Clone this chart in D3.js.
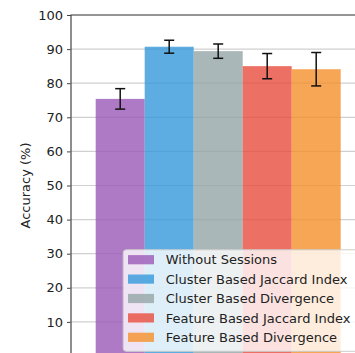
<!DOCTYPE html>
<html>
<head>
<meta charset="utf-8">
<script src="https://cdn.jsdelivr.net/npm/d3@7/dist/d3.min.js"></script>
<style>
  body { margin: 0; background: #fff; }
  svg text { font-family: 'DejaVu Sans', sans-serif; }
</style>
</head>
<body>
<div id="chart"></div>
<script>
var methods = [
  'Without Sessions',
  'Cluster Based Jaccard Index',
  'Cluster Based Divergence',
  'Feature Based Jaccard Index',
  'Feature Based Divergence'
];
var accuracy = [75.4, 90.7, 89.4, 85.0, 84.1];
var errors = [3.0, 1.9, 2.1, 3.7, 4.9];
var colors = ['#9b59b6', '#3498db', '#95a5a6', '#e74c3c', '#f5902b'];
var yTicks = [10, 20, 30, 40, 50, 60, 70, 80, 90, 100];

!(function (d3) {

  var width = 355;
  var height = 353;

  // the plot area runs past the bottom and right edges of the picture
  var plot = { left: 70.5, top: 15, right: 366, bottom: 356 };

  var x = d3.scaleBand()
      .domain(methods)
      .range([95.7, 340.7])
      .padding(0);

  var y = d3.scaleLinear()
      .domain([0, 100])
      .range([plot.bottom, plot.top]);

  var svg = d3.select('#chart').append('svg')
      .attr('width', width)
      .attr('height', height);

  // grid
  svg.append('g').selectAll('line')
      .data(yTicks)
    .enter().append('line')
      .attr('x1', plot.left)
      .attr('x2', plot.right)
      .attr('y1', function (d) { return y(d); })
      .attr('y2', function (d) { return y(d); })
      .style('stroke', '#b0b0b0')
      .style('stroke-opacity', 0.6)
      .style('stroke-width', 1.2);

  // bars
  svg.append('g').selectAll('rect')
      .data(accuracy)
    .enter().append('rect')
      .attr('x', function (d, i) { return x(methods[i]); })
      .attr('y', function (d) { return y(d); })
      .attr('width', x.bandwidth())
      .attr('height', function (d) { return y(0) - y(d); })
      .style('fill', function (d, i) { return colors[i]; })
      .style('fill-opacity', 0.8);

  // error bars
  var err = svg.append('g').selectAll('g')
      .data(accuracy)
    .enter().append('g')
      .attr('transform', function (d, i) {
        return 'translate(' + (x(methods[i]) + x.bandwidth() / 2) + ',0)';
      })
      .style('stroke', '#111')
      .style('stroke-width', 1.5);

  err.append('line')
      .attr('y1', function (d, i) { return y(d + errors[i]); })
      .attr('y2', function (d, i) { return y(d - errors[i]); });
  err.append('line')
      .attr('x1', -5).attr('x2', 5)
      .attr('y1', function (d, i) { return y(d + errors[i]); })
      .attr('y2', function (d, i) { return y(d + errors[i]); });
  err.append('line')
      .attr('x1', -5).attr('x2', 5)
      .attr('y1', function (d, i) { return y(d - errors[i]); })
      .attr('y2', function (d, i) { return y(d - errors[i]); });

  // spines
  svg.append('line')
      .attr('x1', plot.left).attr('x2', plot.right)
      .attr('y1', plot.top).attr('y2', plot.top)
      .style('stroke', '#444')
      .style('stroke-width', 1.2);

  var yAxis = svg.append('g')
      .attr('transform', 'translate(' + plot.left + ',0)')
      .call(d3.axisLeft(y).tickValues(yTicks).tickSize(3.5).tickPadding(4));

  yAxis.select('path')
      .style('stroke', '#444')
      .style('stroke-width', 1.2);
  yAxis.selectAll('g line')
      .style('stroke', '#444');
  yAxis.selectAll('g text')
      .style('fill', '#222')
      .style('font-size', '13px')
      .style('font-family', "'DejaVu Sans', sans-serif");

  svg.append('text')
      .attr('transform', 'translate(30,' + ((plot.top + plot.bottom) / 2) + ') rotate(-90)')
      .style('text-anchor', 'middle')
      .style('font-size', '13px')
      .style('fill', '#222')
      .text('Accuracy (%)');

  // legend
  var legend = svg.append('g')
      .attr('transform', 'translate(122.7,249.3)');

  legend.append('rect')
      .attr('x', 0.5)
      .attr('y', 0.5)
      .attr('width', 240)
      .attr('height', 101.5)
      .attr('rx', 3)
      .style('fill', '#fff')
      .style('fill-opacity', 0.8)
      .style('stroke', '#ccc')
      .style('stroke-width', 1);

  var row = legend.selectAll('g.row')
      .data(methods)
    .enter().append('g')
      .attr('class', 'row')
      .attr('transform', function (d, i) { return 'translate(0,' + (10.4 + i * 19.4) + ')'; });

  row.append('rect')
      .attr('x', 5.3)
      .attr('y', -4.6)
      .attr('width', 26)
      .attr('height', 9.2)
      .style('fill', function (d, i) { return colors[i]; })
      .style('fill-opacity', 0.8);

  row.append('text')
      .attr('x', 43)
      .attr('dy', '0.36em')
      .style('font-size', '13px')
      .style('fill', '#222')
      .text(function (d) { return d; });

})(d3);
</script>
</body>
</html>
